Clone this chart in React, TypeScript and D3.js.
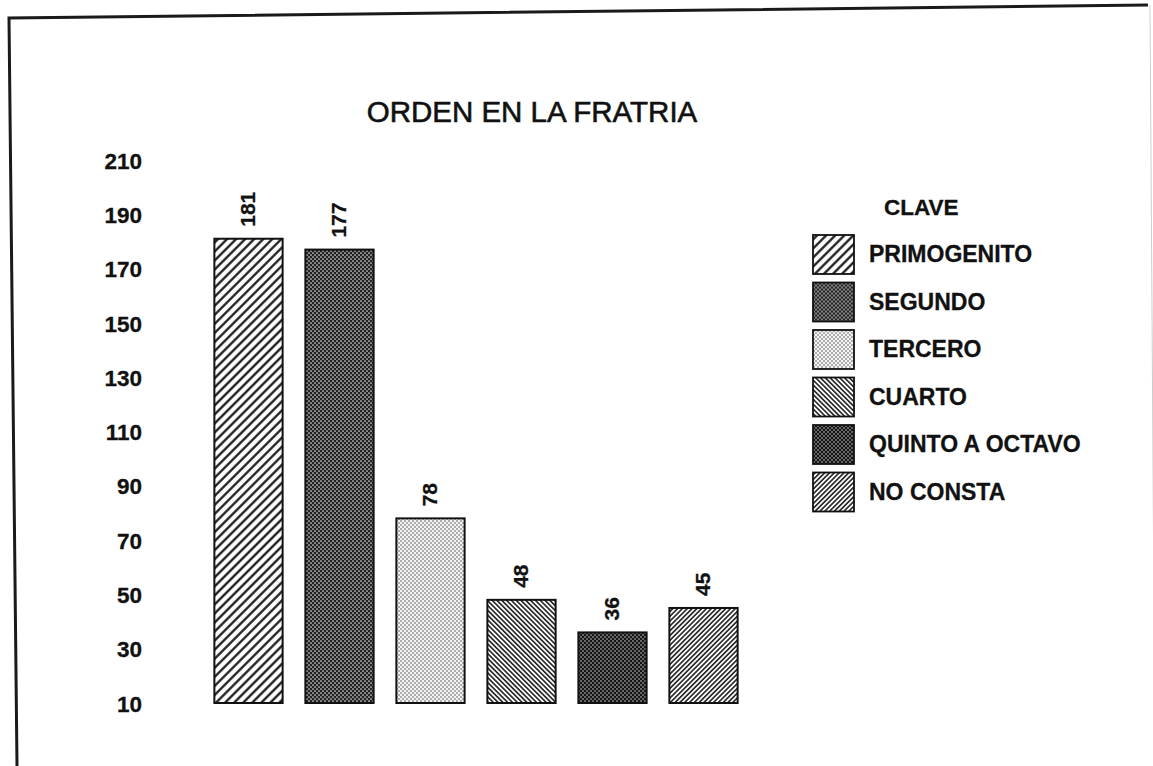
import React, { useEffect, useRef } from "react";
import * as d3 from "d3";

const categories = ["PRIMOGENITO", "SEGUNDO", "TERCERO", "CUARTO", "QUINTO A OCTAVO", "NO CONSTA"];
const values = [181, 177, 78, 48, 36, 45];
const patternIds = ["p-diag", "p-dark", "p-light", "p-back", "p-darker", "p-fine"];
const tickValues = [10, 30, 50, 70, 90, 110, 130, 150, 170, 190, 210];

const W = 1153;
const H = 766;
const font = "'Liberation Sans', Arial, Helvetica, sans-serif";

const App = () => {
  const ref = useRef<SVGSVGElement>(null);

  useEffect(() => {
    const svg = d3.select(ref.current);
    svg.selectAll("*").remove();

    const defs = svg.append("defs");

    // diagonal line hatches
    const hatch = (id: string, size: number, sw: number, angle: number) => {
      const p = defs
        .append("pattern")
        .attr("id", id)
        .attr("patternUnits", "userSpaceOnUse")
        .attr("width", size)
        .attr("height", size)
        .attr("patternTransform", `rotate(${angle})`);
      p.append("rect").attr("width", size).attr("height", size).attr("fill", "#fff");
      p.append("line")
        .attr("x1", size / 2)
        .attr("x2", size / 2)
        .attr("y1", 0)
        .attr("y2", size)
        .attr("stroke", "#111")
        .attr("stroke-width", sw);
    };
    hatch("p-diag", 6.4, 2.2, 45);
    hatch("p-back", 3.4, 1.5, -45);
    hatch("p-fine", 3.4, 1.5, 45);

    // dot screens
    const dots = (id: string, bg: string, fg: string, r: number) => {
      const p = defs
        .append("pattern")
        .attr("id", id)
        .attr("patternUnits", "userSpaceOnUse")
        .attr("width", 4)
        .attr("height", 4);
      p.append("rect").attr("width", 4).attr("height", 4).attr("fill", bg);
      p.append("circle").attr("cx", 1).attr("cy", 1).attr("r", r).attr("fill", fg);
      p.append("circle").attr("cx", 3).attr("cy", 3).attr("r", r).attr("fill", fg);
    };
    dots("p-dark", "#222", "#e0e0e0", 0.85);
    dots("p-light", "#f4f4f4", "#444", 0.75);
    dots("p-darker", "#151515", "#d0d0d0", 0.8);

    svg.append("rect").attr("width", W).attr("height", H).attr("fill", "#fff");

    // scanned frame
    svg
      .append("path")
      .attr("d", "M17,766 L9,18 L1148,5")
      .attr("fill", "none")
      .attr("stroke", "#1a1a1a")
      .attr("stroke-width", 3);
    svg
      .append("path")
      .attr("d", "M1150,5 L1155,766")
      .attr("fill", "none")
      .attr("stroke", "#ccc")
      .attr("stroke-width", 1);

    const x = d3
      .scaleBand()
      .domain(categories)
      .range([203, 749])
      .paddingInner(0.25)
      .paddingOuter(0.125);

    const y = d3.scaleLinear().domain([10, 210]).range([703, 160]);

    // title
    svg
      .append("text")
      .attr("x", 532)
      .attr("y", 122)
      .attr("text-anchor", "middle")
      .style("font-family", font)
      .style("font-size", "29.5px")
      .style("fill", "#111")
      .style("stroke", "#111")
      .style("stroke-width", "0.6px")
      .text("ORDEN EN LA FRATRIA");

    // Y axis
    const yAxis = svg
      .append("g")
      .attr("transform", "translate(142,0)")
      .call(d3.axisLeft(y).tickValues(tickValues).tickSize(0).tickPadding(0));
    yAxis.select(".domain").remove();
    yAxis
      .selectAll(".tick text")
      .attr("dy", "0.36em")
      .style("font-family", font)
      .style("font-weight", "bold")
      .style("font-size", "22.5px")
      .style("fill", "#111")
      .style("stroke", "#111")
      .style("stroke-width", "0.3px");

    // Bars
    svg
      .selectAll("rect.bar")
      .data(categories)
      .enter()
      .append("rect")
      .attr("class", "bar")
      .attr("x", (d) => x(d)!)
      .attr("y", (d, i) => y(values[i]))
      .attr("width", x.bandwidth())
      .attr("height", (d, i) => y(10) - y(values[i]))
      .attr("fill", (d, i) => `url(#${patternIds[i]})`)
      .attr("stroke", "#111")
      .attr("stroke-width", 2);

    // value labels (rotated)
    svg
      .selectAll("text.val")
      .data(categories)
      .enter()
      .append("text")
      .attr("class", "val")
      .attr("transform", (d, i) => `translate(${x(d)! + x.bandwidth() / 2 - 1},${y(values[i]) - 12}) rotate(-90)`)
      .attr("dy", "0.36em")
      .style("font-family", font)
      .style("font-weight", "bold")
      .style("font-size", "21px")
      .style("fill", "#111")
      .style("stroke", "#111")
      .style("stroke-width", "0.3px")
      .text((d, i) => values[i]);

    // Legend
    const lg = svg.append("g").attr("transform", "translate(813,235)");
    lg.append("text")
      .attr("x", 71)
      .attr("y", -20)
      .style("font-family", font)
      .style("font-weight", "bold")
      .style("font-size", "22.5px")
      .style("fill", "#111")
      .style("stroke", "#111")
      .style("stroke-width", "0.3px")
      .text("CLAVE");
    const rows = lg
      .selectAll("g.row")
      .data(categories)
      .enter()
      .append("g")
      .attr("class", "row")
      .attr("transform", (d, i) => `translate(0,${i * 47.5})`);
    rows
      .append("rect")
      .attr("width", 41)
      .attr("height", 39)
      .attr("fill", (d, i) => `url(#${patternIds[i]})`)
      .attr("stroke", "#111")
      .attr("stroke-width", 1.8);
    rows
      .append("text")
      .attr("x", 56)
      .attr("y", 27)
      .style("font-family", font)
      .style("font-weight", "bold")
      .style("font-size", "23px")
      .style("fill", "#111")
      .style("stroke", "#111")
      .style("stroke-width", "0.3px")
      .text((d) => d);
  }, []);

  return (
    <svg
      ref={ref}
      width={W}
      height={H}
      style={{ position: "absolute", left: 0, top: 0 }}
    ></svg>
  );
};

export default App;
